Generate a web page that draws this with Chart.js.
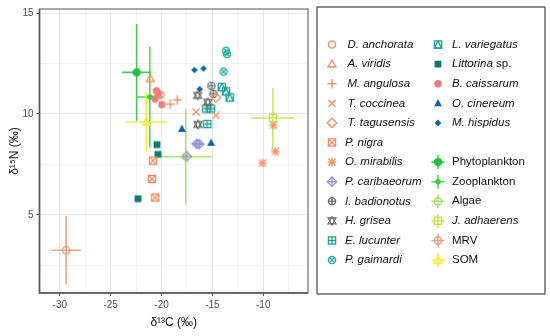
<!DOCTYPE html>
<html>
<head>
<meta charset="utf-8">
<script src="https://cdn.jsdelivr.net/npm/chart.js@4.4.1/dist/chart.umd.min.js"></script>
<style>
  body { margin: 0; background: #fff; }
  #wrap { width: 550px; height: 336px; }
</style>
</head>
<body>
<div id="wrap"><canvas id="isoChart" width="550" height="336"></canvas></div>
<script>
// consumers: [d13C, d15N]
const dAnchorata = [[-20.1, 10.95]];
const aViridis = [[-21.1, 11.75]];
const mAngulosa = [[-19.15, 10.48], [-18.45, 10.7]];
const tCoccinea = [[-16.6, 10.1], [-14.65, 9.93]];
const tTagusensis = [[-14.65, 10.82]];
const pNigra = [[-20.85, 7.69], [-20.95, 6.78], [-20.62, 5.86]];
const oMirabilis = [[-9.0, 9.45], [-8.82, 8.14], [-10.07, 7.57]];
const pCaribaeorum = [[-16.55, 8.52], [-16.3, 8.5], [-17.52, 7.9]];
const iBadionotus = [[-15.1, 11.4], [-14.9, 11.0]];
const hGrisea = [[-16.45, 10.92], [-15.45, 10.58], [-16.42, 9.48]];
const eLucunter = [[-15.6, 10.27], [-15.15, 10.27], [-15.5, 9.5]];
const pGaimardi = [[-13.65, 13.13], [-13.55, 12.97], [-13.9, 12.1]];
const lVariegatus = [[-14.08, 11.33], [-13.66, 11.12], [-13.3, 10.82]];
const littorina = [[-20.45, 8.48], [-20.36, 8.0], [-22.32, 5.8]];
const bCaissarum = [[-20.5, 11.15], [-20.3, 11.0], [-20.65, 10.75], [-19.98, 10.46]];
const oCinereum = [[-18.0, 9.26], [-15.13, 8.57]];
const mHispidus = [[-16.76, 12.18], [-15.87, 12.25], [-16.25, 11.23]];

const consumerNames = ["D. anchorata", "A. viridis", "M. angulosa", "T. coccinea", "T. tagusensis",
  "P. nigra", "O. mirabilis", "P. caribaeorum", "I. badionotus", "H. grisea", "E. lucunter",
  "P. gaimardi", "L. variegatus", "Littorina sp.", "B. caissarum", "O. cinereum", "M. hispidus"];
const consumerPoints = [dAnchorata, aViridis, mAngulosa, tCoccinea, tTagusensis, pNigra, oMirabilis,
  pCaribaeorum, iBadionotus, hGrisea, eLucunter, pGaimardi, lVariegatus, littorina, bCaissarum,
  oCinereum, mHispidus];

// sources: mean and sd
const sourceNames = ["Phytoplankton", "Zooplankton", "Algae", "J. adhaerens", "MRV", "SOM"];
const sourceC = [-22.45, -21.15, -17.62, -9.05, -29.38, -21.5];
const sourceCsd = [1.44, 1.3, 2.53, 2.17, 1.44, 2.0];
const sourceN = [12.06, 10.84, 7.88, 9.8, 3.25, 9.6];
const sourceNsd = [2.4, 2.5, 2.37, 1.49, 1.7, 1.5];

// axis ticks
const xTicks = [-30, -25, -20, -15, -10];
const xMinor = [-27.5, -22.5, -17.5, -12.5, -7.5];
const yTicks = [5, 10, 15];
const yMinor = [2.5, 7.5, 12.5];

// styles
const orange = "#F5895C";
const consumerColors = [orange, orange, orange, orange, orange, orange, orange,
  "#8E8ED6", "#6E6E6E", "#6E6E6E", "#1C9E9A", "#26A89F", "#1C9E9A", "#0B7A78",
  "#F27A80", "#0D62A6", "#0D62A6"];
const consumerShapes = ["circle", "triangle", "plus", "cross", "diamond", "squareCross", "asterisk",
  "diamondPlus", "circlePlus", "trianglesUpDown", "squarePlus", "circleCross", "squareTriangle",
  "squareFilled", "circleFilled", "triangleFilled", "diamondFilled"];
const sourceColors = ["#1DC43C", "#3ECB3E", "#A6DA5E", "#C6E145", "#E0977A", "#F5EC22"];
const sourceShapes = ["circleBig", "bullet", "circle", "square", "circle", "triangle"];

const FONT = "'Liberation Sans', Arial, sans-serif";

function drawShape(g, shape, x, y, color) {
  const s = 3.6;
  g.save();
  g.strokeStyle = color;
  g.fillStyle = color;
  g.lineWidth = 1.3;
  const line = (x1, y1, x2, y2) => { g.beginPath(); g.moveTo(x1, y1); g.lineTo(x2, y2); g.stroke(); };
  const circ = (r) => { g.beginPath(); g.arc(x, y, r, 0, Math.PI * 2); };
  const tri = (dir) => {
    g.beginPath();
    g.moveTo(x, y - dir * s * 1.15);
    g.lineTo(x - s * 1.1, y + dir * s * 0.8);
    g.lineTo(x + s * 1.1, y + dir * s * 0.8);
    g.closePath();
  };
  const diam = (r) => {
    g.beginPath();
    g.moveTo(x, y - r); g.lineTo(x + r, y); g.lineTo(x, y + r); g.lineTo(x - r, y);
    g.closePath();
  };
  switch (shape) {
    case "circle": circ(s); g.stroke(); break;
    case "triangle": tri(1); g.stroke(); break;
    case "plus": line(x - s * 1.3, y, x + s * 1.3, y); line(x, y - s * 1.3, x, y + s * 1.3); break;
    case "cross": line(x - s, y - s, x + s, y + s); line(x - s, y + s, x + s, y - s); break;
    case "diamond": diam(s * 1.3); g.stroke(); break;
    case "squareCross":
      g.strokeRect(x - s, y - s, 2 * s, 2 * s);
      line(x - s, y - s, x + s, y + s); line(x - s, y + s, x + s, y - s); break;
    case "asterisk":
      line(x - s * 1.2, y, x + s * 1.2, y); line(x, y - s * 1.2, x, y + s * 1.2);
      line(x - s, y - s, x + s, y + s); line(x - s, y + s, x + s, y - s); break;
    case "diamondPlus":
      diam(s * 1.3); g.stroke();
      line(x - s * 1.3, y, x + s * 1.3, y); line(x, y - s * 1.3, x, y + s * 1.3); break;
    case "circlePlus":
      circ(s); g.stroke(); line(x - s, y, x + s, y); line(x, y - s, x, y + s); break;
    case "trianglesUpDown": tri(1); g.stroke(); tri(-1); g.stroke(); break;
    case "squarePlus":
      g.strokeRect(x - s, y - s, 2 * s, 2 * s); line(x - s, y, x + s, y); line(x, y - s, x, y + s); break;
    case "circleCross": {
      circ(s); g.stroke();
      const d = s * 0.7;
      line(x - d, y - d, x + d, y + d); line(x - d, y + d, x + d, y - d); break;
    }
    case "squareTriangle":
      g.strokeRect(x - s, y - s, 2 * s, 2 * s);
      g.beginPath(); g.moveTo(x, y - s); g.lineTo(x - s, y + s); g.lineTo(x + s, y + s); g.closePath(); g.stroke();
      break;
    case "squareFilled": g.fillRect(x - 3.4, y - 3.4, 6.8, 6.8); break;
    case "circleFilled": circ(3.7); g.fill(); break;
    case "triangleFilled": tri(1); g.fill(); break;
    case "diamondFilled": diam(3.3); g.fill(); break;
    case "circleBig": circ(4.1); g.fill(); break;
    case "bullet": circ(2.8); g.fill(); break;
    case "square": g.strokeRect(x - s, y - s, 2 * s, 2 * s); break;
  }
  g.restore();
}

function makeSymbol(shape, color) {
  const c = document.createElement("canvas");
  c.width = 16;
  c.height = 16;
  drawShape(c.getContext("2d"), shape, 8, 8, color);
  return c;
}

const datasets = [];
sourceNames.forEach((name, i) => {
  datasets.push({
    label: name,
    data: [{ x: sourceC[i], y: sourceN[i] }],
    pointStyle: makeSymbol(sourceShapes[i], sourceColors[i]),
  });
});
consumerNames.forEach((name, i) => {
  datasets.push({
    label: name,
    data: consumerPoints[i].map((p) => ({ x: p[0], y: p[1] })),
    pointStyle: makeSymbol(consumerShapes[i], consumerColors[i]),
  });
});

const errorBars = {
  id: "errorBars",
  beforeDatasetsDraw(chart) {
    const { ctx, chartArea, scales } = chart;
    const x = scales.x;
    const y = scales.y;
    ctx.save();
    ctx.beginPath();
    ctx.rect(chartArea.left, chartArea.top, chartArea.width, chartArea.height);
    ctx.clip();
    ctx.lineWidth = 1.6;
    ctx.globalAlpha = 0.85;
    sourceNames.forEach((name, i) => {
      const px = x.getPixelForValue(sourceC[i]);
      const py = y.getPixelForValue(sourceN[i]);
      ctx.strokeStyle = sourceColors[i];
      ctx.beginPath();
      ctx.moveTo(x.getPixelForValue(sourceC[i] - sourceCsd[i]), py);
      ctx.lineTo(x.getPixelForValue(sourceC[i] + sourceCsd[i]), py);
      ctx.moveTo(px, y.getPixelForValue(sourceN[i] - sourceNsd[i]));
      ctx.lineTo(px, y.getPixelForValue(sourceN[i] + sourceNsd[i]));
      ctx.stroke();
    });
    ctx.restore();
  },
};

function legendText(ctx, parts, x, y) {
  let cx = x;
  parts.forEach(([txt, italic]) => {
    ctx.font = (italic ? "italic " : "") + "11.5px " + FONT;
    ctx.fillText(txt, cx, y);
    cx += ctx.measureText(txt).width;
  });
}

const panelAndLegend = {
  id: "panelAndLegend",
  afterDraw(chart) {
    const { ctx, chartArea } = chart;
    ctx.save();
    // panel frame
    ctx.strokeStyle = "#8a8a8a";
    ctx.lineWidth = 1.5;
    ctx.strokeRect(chartArea.left, chartArea.top, chartArea.right - chartArea.left, chartArea.bottom - chartArea.top);
    ctx.strokeStyle = "#555";
    ctx.beginPath();
    ctx.moveTo(chartArea.left, chartArea.top);
    ctx.lineTo(chartArea.left, chartArea.bottom);
    ctx.lineTo(chartArea.right, chartArea.bottom);
    ctx.stroke();

    // legend box
    ctx.strokeStyle = "#444";
    ctx.lineWidth = 1.2;
    ctx.strokeRect(317, 7, 228, 287);
    ctx.fillStyle = "#111";
    ctx.textBaseline = "middle";
    const y0 = 44.5;
    const dy = 19.6;
    consumerNames.forEach((name, i) => {
      const col = i < 12 ? 0 : 1;
      const row = i < 12 ? i : i - 12;
      const ry = y0 + row * dy;
      const sx = col === 0 ? 332 : 438;
      const tx = col === 0 ? (i < 5 ? 347.5 : 345) : 452;
      drawShape(ctx, consumerShapes[i], sx, ry, consumerColors[i]);
      ctx.fillStyle = "#111";
      if (name === "Littorina sp.") legendText(ctx, [["Littorina", true], [" sp.", false]], tx, ry);
      else legendText(ctx, [[name, true]], tx, ry);
    });
    sourceNames.forEach((name, i) => {
      const ry = y0 + (i + 6) * dy;
      const sx = 438;
      ctx.strokeStyle = sourceColors[i];
      ctx.globalAlpha = 0.85;
      ctx.lineWidth = 1.6;
      ctx.beginPath();
      ctx.moveTo(sx - 6.5, ry); ctx.lineTo(sx + 6.5, ry);
      ctx.moveTo(sx, ry - 7); ctx.lineTo(sx, ry + 7);
      ctx.stroke();
      ctx.globalAlpha = 1;
      drawShape(ctx, sourceShapes[i], sx, ry, sourceColors[i]);
      ctx.fillStyle = "#111";
      legendText(ctx, [[name, name === "J. adhaerens"]], 452, ry);
    });
    ctx.restore();
  },
};

const isMajor = (v, list) => list.includes(v);

const ctx = document.getElementById("isoChart").getContext("2d");
const chart = new Chart(ctx, {
  type: "scatter",
  data: { datasets: datasets },
  plugins: [errorBars, panelAndLegend],
  options: {
    responsive: false,
    animation: false,
    layout: { padding: { left: 0, top: 6, right: 242, bottom: 0 } },
    elements: { point: { radius: 4 } },
    plugins: {
      legend: { display: false },
      tooltip: { enabled: false },
    },
    scales: {
      x: {
        type: "linear",
        min: -32.0,
        max: -5.6,
        afterBuildTicks: (scale) => {
          scale.ticks = xTicks.concat(xMinor).sort((a, b) => a - b).map((v) => ({ value: v }));
        },
        afterFit: (scale) => { scale.height = 43; },
        border: { display: false },
        grid: {
          color: (c) => (c.tick && isMajor(c.tick.value, xTicks) ? "#E6E6E6" : "#F3F3F3"),
          tickColor: (c) => (c.tick && isMajor(c.tick.value, xTicks) ? "#555" : "rgba(0,0,0,0)"),
          tickLength: 3,
        },
        ticks: {
          autoSkip: false,
          maxRotation: 0,
          padding: 3,
          color: "#4D4D4D",
          font: { family: FONT, size: 10 },
          callback: (v) => (xTicks.includes(v) ? String(v) : ""),
        },
        title: {
          display: true,
          text: "δ¹³C (‰)",
          color: "#111",
          font: { family: FONT, size: 12 },
          padding: { top: 0, bottom: 6 },
        },
      },
      y: {
        type: "linear",
        min: 1.13,
        max: 15.2,
        afterBuildTicks: (scale) => {
          scale.ticks = yTicks.concat(yMinor).sort((a, b) => a - b).map((v) => ({ value: v }));
        },
        afterFit: (scale) => { scale.width = 39.5; },
        border: { display: false },
        grid: {
          color: (c) => (c.tick && isMajor(c.tick.value, yTicks) ? "#E6E6E6" : "#F3F3F3"),
          tickColor: (c) => (c.tick && isMajor(c.tick.value, yTicks) ? "#555" : "rgba(0,0,0,0)"),
          tickLength: 3,
        },
        ticks: {
          autoSkip: false,
          padding: 3,
          color: "#4D4D4D",
          font: { family: FONT, size: 10 },
          callback: (v) => (yTicks.includes(v) ? String(v) : ""),
        },
        title: {
          display: true,
          text: "δ¹⁵N (‰)",
          color: "#111",
          font: { family: FONT, size: 12 },
          padding: { top: 7, bottom: 0 },
        },
      },
    },
  },
});
</script>
</body>
</html>
